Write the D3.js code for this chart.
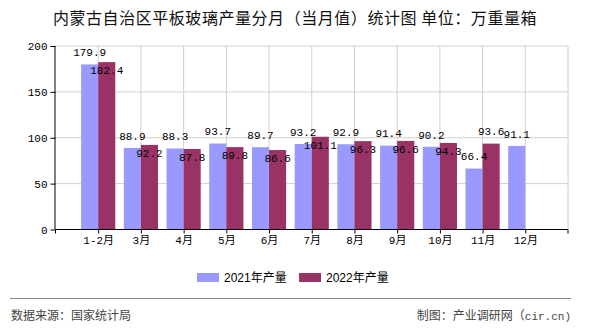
<!DOCTYPE html>
<html><head><meta charset="utf-8">
<script src="https://cdn.jsdelivr.net/npm/d3@7/dist/d3.min.js"></script>
<style>
html,body{margin:0;padding:0;background:#fff;}
svg{display:block;}
</style></head>
<body>
<script>
const title = "内蒙古自治区平板玻璃产量分月（当月值）统计图 单位：万重量箱";
const categories = ["1-2月","3月","4月","5月","6月","7月","8月","9月","10月","11月","12月"];
const seriesNames = ["2021年产量","2022年产量"];
const values2021 = [179.9, 88.9, 88.3, 93.7, 89.7, 93.2, 92.9, 91.4, 90.2, 66.4, 91.1];
const values2022 = [182.4, 92.2, 87.8, 89.8, 86.6, 101.1, 96.3, 96.6, 94.3, 93.6, null];
const yTicks = [0, 50, 100, 150, 200];
const colors = ["#9999FF", "#993366"];
const sourceText = "数据来源：国家统计局";
const creditCjk = "制图：产业调研网（";
const creditLatin = "cir.cn)";

(function () {
const W = 590, H = 330;
const pLeft = 55.5, pRight = 568, pTop = 46, pBottom = 229.5;
const monoFont = "'Liberation Mono','Noto Sans CJK SC',monospace";
const cjkFont = "'Noto Sans CJK SC','Noto Sans',sans-serif";

const svg = d3.select("body").append("svg").attr("width", W).attr("height", H);

// title
svg.append("text").attr("x", 295).attr("y", 23.5).attr("text-anchor", "middle")
  .style("font-family", cjkFont).style("font-size", "16px").style("letter-spacing", "0.55px").style("fill", "#111")
  .text(title);

const step = (pRight - pLeft) / (categories.length + 1);
const x = d3.scalePoint().domain(categories).range([pLeft + step, pRight - step]);
const y = d3.scaleLinear().domain([0, 200]).range([pBottom, pTop]);
const bw = step * 0.4;
const xs = d3.scaleBand().domain(seriesNames).range([-bw, bw]);

// grid
const grid = svg.append("g");
grid.selectAll("line.h").data(yTicks.filter(d => d > 0)).enter().append("line")
  .attr("x1", pLeft).attr("x2", pRight).attr("y1", d => y(d)).attr("y2", d => y(d))
  .attr("stroke", "#d0d0d0").attr("stroke-width", 1);
grid.selectAll("line.v").data(categories).enter().append("line")
  .attr("x1", d => x(d)).attr("x2", d => x(d)).attr("y1", pTop).attr("y2", pBottom)
  .attr("stroke", "#d0d0d0").attr("stroke-width", 1);
grid.append("line").attr("x1", pRight).attr("x2", pRight).attr("y1", pTop).attr("y2", pBottom)
  .attr("stroke", "#d0d0d0");

// bars
const series = [values2021, values2022];
series.forEach((vals, si) => {
  svg.append("g").selectAll("rect").data(categories.map((c, i) => ({c, v: vals[i]})).filter(d => d.v != null))
    .enter().append("rect")
    .attr("x", d => x(d.c) + xs(seriesNames[si]))
    .attr("width", xs.bandwidth())
    .attr("y", d => y(d.v))
    .attr("height", d => y(0) - y(d.v))
    .attr("fill", colors[si]);
});

// axes
const yAxis = d3.axisLeft(y).tickValues(yTicks).tickSize(5).tickPadding(3).tickFormat(d3.format("d"));
const gy = svg.append("g").attr("transform", `translate(${pLeft},0)`).call(yAxis);
gy.select(".domain").attr("stroke", "#000").attr("d", `M-0.5,${pBottom}V${pTop}`);
gy.selectAll("text").style("font-family", monoFont).style("font-size", "11px").style("fill", "#000");

const xAxis = d3.axisBottom(x).tickSize(4).tickPadding(3);
const gx = svg.append("g").attr("transform", `translate(0,${pBottom})`).call(xAxis);
gx.select(".domain").attr("d", `M${pLeft},4V0H${pRight}V4`).attr("stroke", "#000");
gx.selectAll("text").style("font-family", monoFont).style("font-size", "11px").style("fill", "#000");

// labels
const lab = svg.append("g").style("font-family", monoFont).style("font-size", "11px").style("fill", "#000");
categories.forEach((c, i) => {
  const v1 = values2021[i], v2 = values2022[i];
  const y1 = y(v1) - 12;
  lab.append("text").attr("x", x(c) + xs(seriesNames[0]) + xs.bandwidth() / 2).attr("y", y1)
    .attr("text-anchor", "middle").attr("dy", "0.35em").text(v1.toFixed(1));
  if (v2 != null) {
    let y2 = y(v2) - 12;
    if (Math.abs(y2 - y1) < 12) y2 = y(v2) + 8;
    lab.append("text").attr("x", x(c) + xs(seriesNames[1]) + xs.bandwidth() / 2).attr("y", y2)
      .attr("text-anchor", "middle").attr("dy", "0.35em").text(v2.toFixed(1));
  }
});

// legend
const legendX = [197, 299];
const lg = svg.append("g");
seriesNames.forEach((n, i) => {
  lg.append("rect").attr("x", legendX[i]).attr("y", 273).attr("width", 22).attr("height", 9).attr("fill", colors[i]);
  lg.append("text").attr("x", legendX[i] + 27).attr("y", 277.5).attr("dy", "0.35em")
    .style("font-family", "'Liberation Sans','Noto Sans CJK SC',sans-serif").style("font-size", "12px").style("fill", "#000")
    .text(n);
});

// footer
svg.append("line").attr("x1", 10).attr("x2", 571).attr("y1", 298.5).attr("y2", 298.5)
  .attr("stroke", "#888").attr("stroke-width", 1.2);
svg.append("text").attr("x", 11).attr("y", 316).attr("dy", "0.35em")
  .style("font-family", cjkFont).style("font-size", "12px").style("fill", "#444").text(sourceText);
const cr = svg.append("text").attr("x", 571).attr("y", 316).attr("dy", "0.35em").attr("text-anchor", "end")
  .style("font-family", cjkFont).style("font-size", "12px").style("fill", "#444");
cr.append("tspan").text(creditCjk);
cr.append("tspan").style("font-family", monoFont).style("font-size", "11px").text(creditLatin);
})();
</script>
</body></html>
